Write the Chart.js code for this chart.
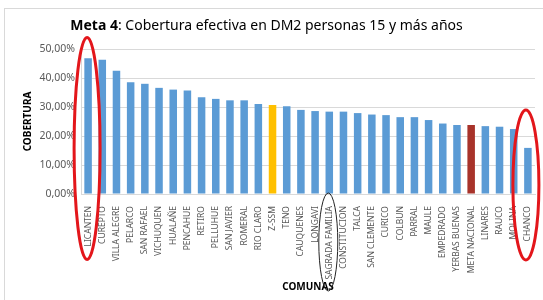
<!DOCTYPE html>
<html>
<head>
<meta charset="utf-8">
<script src="https://cdn.jsdelivr.net/npm/chart.js@4.4.1/dist/chart.umd.min.js"></script>
<style>
  html, body { margin: 0; padding: 0; background: #fff; }
  #wrap { position: relative; width: 543px; height: 300px; overflow: hidden; }
  #frame { position: absolute; left: 4px; top: 8px; width: 560px; height: 320px; border-top: 1px solid #d9d9d9; border-left: 1px solid #d9d9d9; }
  #title { position: absolute; left: 0; top: 15px; width: 533px; text-align: center; font-family: "Noto Sans", sans-serif; font-size: 14px; color: #000; white-space: nowrap; }
  canvas { position: absolute; left: 0; top: 0; }
</style>
</head>
<body>
<div id="wrap">
  <div id="frame"></div>
  <canvas id="c" width="543" height="300"></canvas>
  <div id="title"><b>Meta 4</b>: Cobertura efectiva en DM2 personas 15 y más años</div>
</div>
<script>
const comunas = ["LICANTEN","CUREPTO","VILLA ALEGRE","PELARCO","SAN RAFAEL","VICHUQUEN","HUALAÑE","PENCAHUE","RETIRO","PELLUHUE","SAN JAVIER","ROMERAL","RIO CLARO","Z-SSM","TENO","CAUQUENES","LONGAVI","SAGRADA FAMILIA","CONSTITUCION","TALCA","SAN CLEMENTE","CURICO","COLBUN","PARRAL","MAULE","EMPEDRADO","YERBAS BUENAS","META NACIONAL","LINARES","RAUCO","MOLINA","CHANCO"];
const cobertura = [46.8,46.3,42.5,38.5,38.0,36.6,36.0,35.7,33.4,32.8,32.3,32.3,31.0,30.7,30.3,29.0,28.6,28.4,28.4,27.9,27.4,27.2,26.5,26.5,25.5,24.3,23.8,23.8,23.4,23.2,22.4,15.9];
const yTicks = [0,5,10,15,20,25,30,35,40,45,50];
const highlightSSM = "Z-SSM";
const highlightMeta = "META NACIONAL";
const circledRed = ["LICANTEN","CHANCO"];
const circledBlack = ["SAGRADA FAMILIA"];

const barColors = comunas.map(c => c === highlightSSM ? "#FFC000" : (c === highlightMeta ? "#A8332A" : "#5B9BD5"));

const ellipsePlugin = {
  id: "ellipses",
  afterDraw(chart) {
    const ctx = chart.ctx, xs = chart.scales.x;
    ctx.save();
    let cx = xs.getPixelForValue(comunas.indexOf(circledRed[0]));
    ctx.strokeStyle = "#E3161B"; ctx.lineWidth = 3;
    ctx.beginPath(); ctx.ellipse(cx - 1, 148.5, 13, 111, 0, 0, Math.PI*2); ctx.stroke();
    cx = xs.getPixelForValue(comunas.indexOf(circledRed[1]));
    ctx.beginPath(); ctx.ellipse(cx - 2, 185, 13, 75, 0, 0, Math.PI*2); ctx.stroke();
    cx = xs.getPixelForValue(comunas.indexOf(circledBlack[0]));
    ctx.strokeStyle = "#222"; ctx.lineWidth = 1;
    ctx.beginPath(); ctx.ellipse(cx - 1, 242, 9.5, 49, 0, 0, Math.PI*2); ctx.stroke();
    ctx.restore();
  }
};

new Chart(document.getElementById("c"), {
  type: "bar",
  data: {
    labels: comunas,
    datasets: [{ data: cobertura, backgroundColor: barColors, barPercentage: 0.53, categoryPercentage: 1.0 }]
  },
  options: {
    responsive: false,
    animation: false,
    events: [],
    layout: { padding: { top: 49, right: 8, bottom: 7, left: 0 } },
    plugins: { legend: { display: false }, tooltip: { enabled: false } },
    scales: {
      y: {
        min: 0, max: 50,
        afterBuildTicks(s) { s.ticks = yTicks.map(v => ({ value: v })); },
        afterFit(s) { s.width = 81; },
        ticks: {
          color: "#595959", padding: 6,
          font: { family: "Noto Sans", size: 10.5 },
          callback: v => v.toFixed(2).replace(".", ",") + "%"
        },
        grid: { color: "#d9d9d9", drawTicks: false },
        border: { display: true, color: "#d9d9d9" },
        title: { display: true, text: "COBERTURA", color: "#000", font: { family: "Noto Sans", size: 10, weight: "bold" }, padding: { top: 22, bottom: 0 } }
      },
      x: {
        afterFit(s) { s.height = 99; },
        ticks: {
          color: "#595959", padding: 4, autoSkip: false, maxRotation: 90, minRotation: 90,
          font: { family: "Noto Sans", size: 8.5 }
        },
        grid: { display: false },
        border: { display: true, color: "#d9d9d9" },
        title: { display: true, text: "COMUNAS", color: "#000", font: { family: "Noto Sans", size: 10, weight: "bold" }, padding: { top: 0, bottom: 0 } }
      }
    }
  },
  plugins: [ellipsePlugin]
});
</script>
</body>
</html>
